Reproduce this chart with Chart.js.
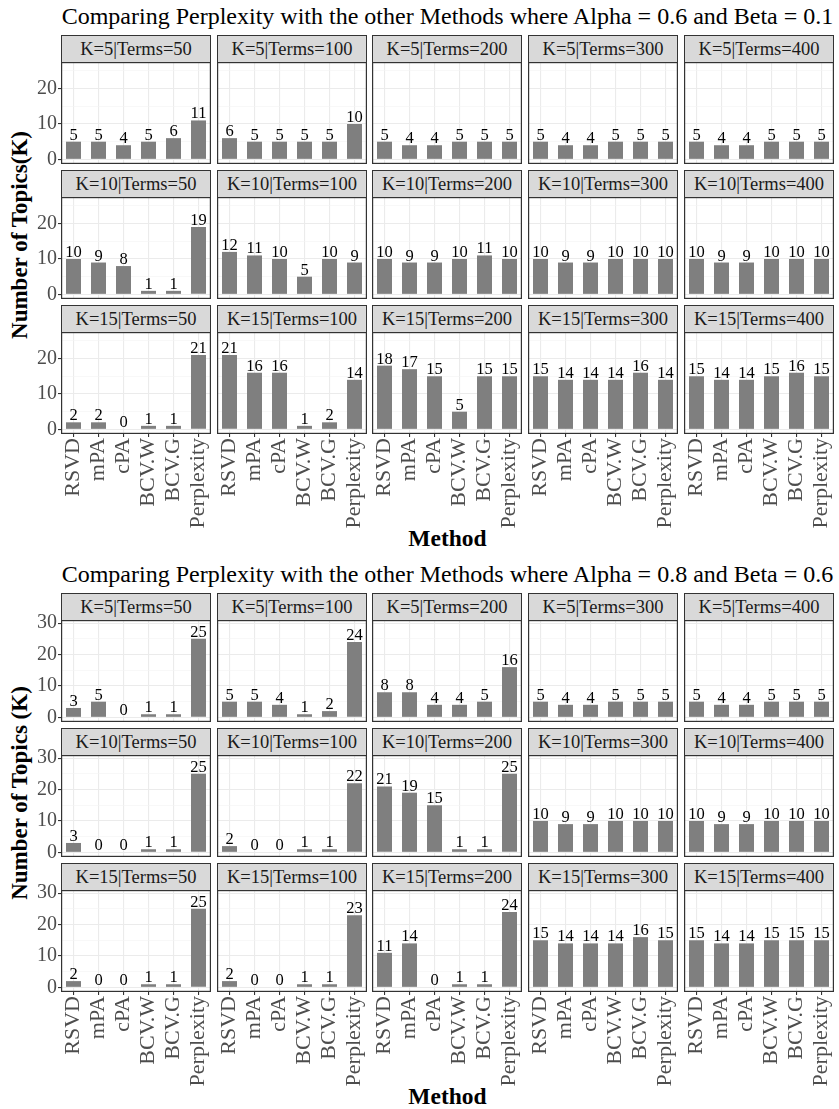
<!DOCTYPE html>
<html>
<head>
<meta charset="utf-8">
<script src="https://cdn.jsdelivr.net/npm/chart.js@4.4.1/dist/chart.umd.min.js"></script>
<style>
  body { margin: 0; background: #fff; font-family: "Liberation Serif", serif; }
  #wrap { position: relative; width: 839px; height: 1109px; overflow: hidden; }
  canvas { position: absolute; }
  .strip {
    position: absolute; box-sizing: border-box;
    background: #d9d9d9; border: 1px solid #333;
    color: #1a1a1a; font-size: 18.5px; text-align: center; white-space: nowrap;
  }
  .txt { position: absolute; white-space: nowrap; color: #000; }
</style>
</head>
<body>
<div id="wrap"></div>
<script>
// Methods on the x axis of every panel
const methods = ['RSVD', 'mPA', 'cPA', 'BCV.W', 'BCV.G', 'Perplexity'];
const kLevels = [5, 10, 15];
const termLevels = [50, 100, 200, 300, 400];

// Figure 1: Alpha = 0.6, Beta = 0.1 (one array per Terms level)
const fig1K5 = [
  [5, 5, 4, 5, 6, 11],
  [6, 5, 5, 5, 5, 10],
  [5, 4, 4, 5, 5, 5],
  [5, 4, 4, 5, 5, 5],
  [5, 4, 4, 5, 5, 5]
];
const fig1K10 = [
  [10, 9, 8, 1, 1, 19],
  [12, 11, 10, 5, 10, 9],
  [10, 9, 9, 10, 11, 10],
  [10, 9, 9, 10, 10, 10],
  [10, 9, 9, 10, 10, 10]
];
const fig1K15 = [
  [2, 2, 0, 1, 1, 21],
  [21, 16, 16, 1, 2, 14],
  [18, 17, 15, 5, 15, 15],
  [15, 14, 14, 14, 16, 14],
  [15, 14, 14, 15, 16, 15]
];

// Figure 2: Alpha = 0.8, Beta = 0.6
const fig2K5 = [
  [3, 5, 0, 1, 1, 25],
  [5, 5, 4, 1, 2, 24],
  [8, 8, 4, 4, 5, 16],
  [5, 4, 4, 5, 5, 5],
  [5, 4, 4, 5, 5, 5]
];
const fig2K10 = [
  [3, 0, 0, 1, 1, 25],
  [2, 0, 0, 1, 1, 22],
  [21, 19, 15, 1, 1, 25],
  [10, 9, 9, 10, 10, 10],
  [10, 9, 9, 10, 10, 10]
];
const fig2K15 = [
  [2, 0, 0, 1, 1, 25],
  [2, 0, 0, 1, 1, 23],
  [11, 14, 0, 1, 1, 24],
  [15, 14, 14, 14, 16, 15],
  [15, 14, 14, 15, 15, 15]
];

// y axis: grid lines every 5, labels every 10
const fig1YGrid = [0, 5, 10, 15, 20, 25];
const fig1YLabels = [0, 10, 20];
const fig2YGrid = [0, 5, 10, 15, 20, 25, 30];
const fig2YLabels = [0, 10, 20, 30];

const figures = [
  {
    title: 'Comparing Perplexity with the other Methods where Alpha = 0.6 and Beta = 0.1',
    yTitle: 'Number of Topics(K)',
    rows: [fig1K5, fig1K10, fig1K15],
    yGrid: fig1YGrid, yLabels: fig1YLabels, yMin: -1.3, yMax: 27.5
  },
  {
    title: 'Comparing Perplexity with the other Methods where Alpha = 0.8 and Beta = 0.6',
    yTitle: 'Number of Topics (K)',
    rows: [fig2K5, fig2K10, fig2K15],
    yGrid: fig2YGrid, yLabels: fig2YLabels, yMin: -1.47, yMax: 31
  }
];

// layout (pixels)
const FIG_TOP = [35, 593];
const COL_LEFT0 = 61, COL_PITCH = 155.7, PANEL_W = 150;
const ROW_PITCH = 135, STRIP_H = 27, PLOT_H = 102;
const X_AXIS_H = 97;
const LABEL_ROOM = 12;   // room above/below the first column for tick labels
const SERIF = '"Liberation Serif", serif';

const wrap = document.getElementById('wrap');

// panel frame, like theme_bw
const panelBorder = {
  id: 'panelBorder',
  afterDraw(chart) {
    const a = chart.chartArea, ctx = chart.ctx;
    ctx.save();
    ctx.strokeStyle = '#333';
    ctx.lineWidth = 1.2;
    ctx.strokeRect(a.left + 0.6, a.top + 0.6, a.right - a.left - 1.2, a.bottom - a.top - 1.2);
    ctx.restore();
  }
};

// value above each bar
const barLabels = {
  id: 'barLabels',
  afterDatasetsDraw(chart) {
    const ctx = chart.ctx;
    const meta = chart.getDatasetMeta(0);
    const vals = chart.data.datasets[0].data;
    ctx.save();
    ctx.font = '16.5px ' + SERIF;
    ctx.fillStyle = '#000';
    ctx.textAlign = 'center';
    ctx.textBaseline = 'alphabetic';
    meta.data.forEach((bar, i) => {
      ctx.fillText(String(vals[i]), bar.x, bar.y - 2);
    });
    ctx.restore();
  }
};

function addText(txt, x, y, css, rotate) {
  const d = document.createElement('div');
  d.className = 'txt';
  d.textContent = txt;
  d.style.left = x + 'px';
  d.style.top = y + 'px';
  Object.assign(d.style, css);
  d.style.transform = 'translate(-50%, -50%)' + (rotate ? ' rotate(-90deg)' : '');
  wrap.appendChild(d);
}

// no extra room for half tick labels: keep every plot area the same size
function noPad(sc) {
  sc.paddingTop = 0;
  sc.paddingBottom = 0;
  sc.paddingLeft = 0;
  sc.paddingRight = 0;
}

function makePanel(fig, f, r, c) {
  const isFirst = c === 0, isLast = r === 2;
  const left = Math.round(COL_LEFT0 + c * COL_PITCH);
  const right = Math.round(COL_LEFT0 + c * COL_PITCH + PANEL_W);
  const rowTop = FIG_TOP[f] + r * ROW_PITCH;

  // strip on top of the panel
  const s = document.createElement('div');
  s.className = 'strip';
  s.style.left = left + 'px';
  s.style.top = rowTop + 'px';
  s.style.width = (right - left) + 'px';
  s.style.height = (STRIP_H + 1) + 'px';
  s.style.lineHeight = (STRIP_H - 1) + 'px';
  s.textContent = 'K=' + kLevels[r] + '|Terms=' + termLevels[c];
  wrap.appendChild(s);

  const axisW = isFirst ? left : 0;
  const axisH = isLast ? X_AXIS_H : 0;
  const padTop = isFirst ? LABEL_ROOM : 0;
  const padBottom = isFirst && !isLast ? LABEL_ROOM : 0;
  const canvas = document.createElement('canvas');
  canvas.width = (right - left) + axisW;
  canvas.height = PLOT_H + axisH + padTop + padBottom;
  canvas.style.left = (left - axisW) + 'px';
  canvas.style.top = (rowTop + STRIP_H - padTop) + 'px';
  wrap.appendChild(canvas);

  const major = v => v % 10 === 0;

  new Chart(canvas, {
    type: 'bar',
    data: {
      labels: methods,
      datasets: [{
        data: fig.rows[r][c],
        backgroundColor: '#7f7f7f',
        borderWidth: 0,
        categoryPercentage: 1,
        barPercentage: 0.6
      }]
    },
    options: {
      responsive: false,
      animation: false,
      layout: { padding: { top: padTop, bottom: padBottom, left: 0, right: 0 } },
      plugins: {
        legend: { display: false },
        tooltip: { enabled: false }
      },
      scales: {
        x: {
          border: { display: false },
          grid: {
            offset: false,
            color: '#ebebeb',
            lineWidth: 1.1,
            drawTicks: isLast,
            tickLength: 3,
            tickColor: '#333'
          },
          ticks: {
            display: isLast,
            autoSkip: false,
            minRotation: 90,
            maxRotation: 90,
            padding: 1,
            color: '#4d4d4d',
            font: { family: SERIF, size: 22 }
          },
          afterFit: sc => { sc.height = axisH; noPad(sc); }
        },
        y: {
          min: fig.yMin,
          max: fig.yMax,
          border: { display: false },
          grid: {
            color: ctx => major(ctx.tick.value) ? '#ebebeb' : '#f3f3f3',
            lineWidth: ctx => major(ctx.tick.value) ? 1.1 : 0.6,
            drawTicks: isFirst,
            tickLength: 3,
            tickColor: ctx => major(ctx.tick.value) ? '#333' : 'rgba(0,0,0,0)'
          },
          ticks: {
            display: isFirst,
            autoSkip: false,
            padding: 1,
            color: '#4d4d4d',
            font: { family: SERIF, size: 20 },
            callback: v => fig.yLabels.includes(v) ? String(v) : ''
          },
          afterBuildTicks: sc => { sc.ticks = fig.yGrid.map(v => ({ value: v })); },
          afterFit: sc => { sc.width = axisW; noPad(sc); }
        }
      }
    },
    plugins: [panelBorder, barLabels]
  });
}

figures.forEach((fig, f) => {
  const top = FIG_TOP[f];
  // plot title, y title, x title
  addText(fig.title, 447.5, top - 19, { fontSize: '24px' }, false);
  addText(fig.yTitle, 19.5, top + (3 * ROW_PITCH - 6) / 2, { fontSize: '23px', fontWeight: 'bold' }, true);
  addText('Method', 447.5, top + 503, { fontSize: '23.5px', fontWeight: 'bold' }, false);

  for (let r = 0; r < 3; r++) {
    for (let c = 0; c < 5; c++) makePanel(fig, f, r, c);
  }
});
</script>
</body>
</html>
